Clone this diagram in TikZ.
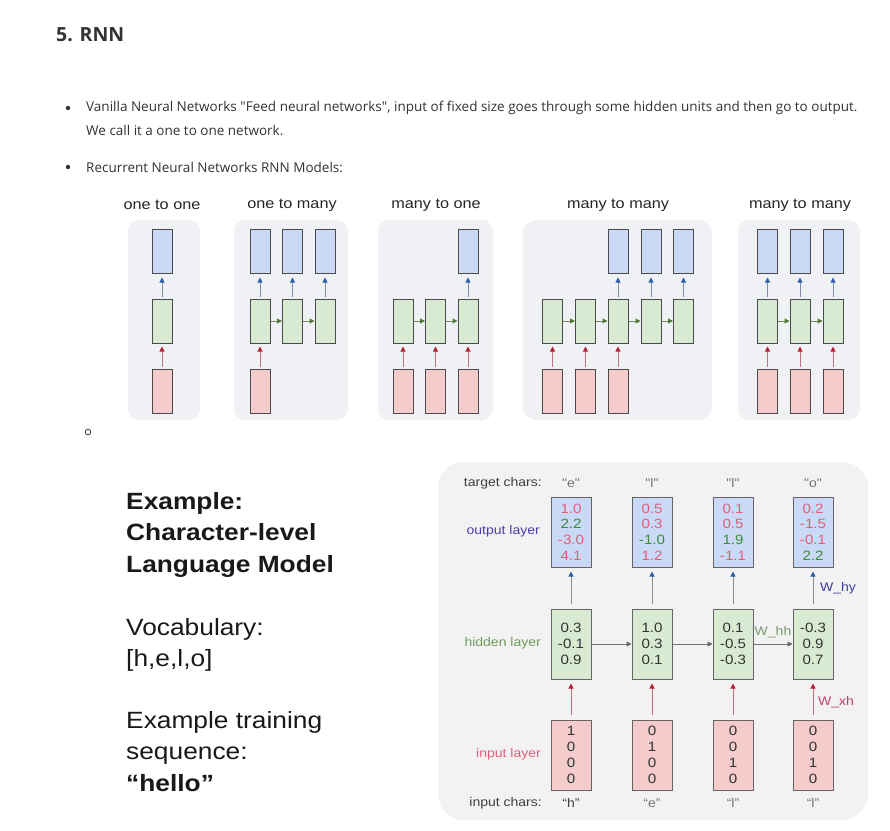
\documentclass[tikz,border=0pt]{standalone}
\usepackage{fontspec}
\setmainfont{Liberation Sans}
\newfontfamily\webfont{Open Sans}
\newfontfamily\arialx[FakeStretch=1.12]{Liberation Sans}
\usetikzlibrary{arrows.meta}
\definecolor{panelbg}{HTML}{EFF1F4}
\definecolor{exbg}{HTML}{F2F2F3}
\definecolor{boxline}{HTML}{4A4A4A}
\definecolor{cellblue}{HTML}{C9D9F6}
\definecolor{cellgreen}{HTML}{D9EAD3}
\definecolor{cellred}{HTML}{F4CCCC}
\definecolor{tipblue}{HTML}{2F5FA8}
\definecolor{tipred}{HTML}{B3243B}
\definecolor{tipgreen}{HTML}{4E7A35}
\definecolor{shaftblue}{HTML}{7F8DA6}
\definecolor{shaftred}{HTML}{C0707C}
\definecolor{shaftgreen}{HTML}{6F8C5E}
\definecolor{txt}{HTML}{333333}
\definecolor{numred}{HTML}{E0607A}
\definecolor{numgreen}{HTML}{3D8A3D}
\definecolor{lblblue}{HTML}{4B3FA6}
\definecolor{lblgreen}{HTML}{6F9A5A}
\definecolor{lblred}{HTML}{E0607A}
\definecolor{whh}{HTML}{7A9A70}
\definecolor{why}{HTML}{3C3CA0}
\definecolor{wxh}{HTML}{C0406A}
\tikzset{
  panel/.style={fill=panelbg, draw=none},
  cell/.style={draw=boxline, line width=1pt, minimum width=20pt, minimum height=44pt, inner sep=0pt},
  bcell/.style={cell, fill=cellblue},
  gcell/.style={cell, fill=cellgreen},
  rcell/.style={cell, fill=cellred},
  upblue/.style={draw=shaftblue, line width=1pt, -{Triangle[length=5pt,width=5pt,color=tipblue]}, shorten <=2pt, shorten >=4pt},
  upred/.style={draw=shaftred, line width=1pt, -{Triangle[length=5pt,width=5pt,color=tipred]}, shorten <=2pt, shorten >=3pt},
  rgreen/.style={draw=shaftgreen, line width=1pt, -{Triangle[length=5pt,width=5pt,color=tipgreen]}},
  toplabel/.style={font=\arialx\fontsize{14.5}{16}\selectfont, text=black!85, inner sep=0pt},
  bigcell/.style={draw=boxline!85, line width=1pt, minimum width=40pt, inner sep=0pt, align=center, font=\arialx\fontsize{13.5}{15.8}\selectfont},
  outcell/.style={bigcell, fill=cellblue, minimum height=70pt},
  hidcell/.style={bigcell, fill=cellgreen, minimum height=70pt, text=txt},
  incell/.style={bigcell, fill=cellred, minimum height=70pt, text=txt},
  exlbl/.style={font=\arialx\fontsize{12.5}{14}\selectfont, inner sep=0pt, anchor=east},
  chr/.style={font=\arialx\fontsize{12.5}{14}\selectfont, inner sep=0pt, text=black!55},
  exup/.style={draw=black!45, line width=1pt, shorten <=5pt, shorten >=4pt},
  exright/.style={draw=black!55, line width=1pt, -{Triangle[length=5pt,width=5pt,color=black!60]}},
  lefttxt/.style={font=\arialx\fontsize{23.5}{28}\selectfont, anchor=base west, inner sep=0pt, text=black!90},
  bodytxt/.style={font=\webfont\fontsize{13.5}{15}\selectfont, text=txt, anchor=west, inner sep=0pt},
}
\begin{document}
\begin{tikzpicture}[x=1pt, y=-1pt]
\useasboundingbox[fill=white] (0,0) rectangle (890,830);

% heading and bullets
\node[font=\webfont\bfseries\fontsize{19.5}{22}\selectfont, text=txt, anchor=west, inner sep=0pt] (title) at (56,35) {5. RNN};
\fill[txt] (68,108) circle (2.2pt);
\node[bodytxt] (b1a) at (86,108) {Vanilla Neural Networks "Feed neural networks", input of fixed size goes through some hidden units and then go to output.};
\node[bodytxt] (b1b) at (86,130) {We call it a one to one network.};
\fill[txt] (68,167) circle (2.2pt);
\node[bodytxt] (b2) at (86,167) {Recurrent Neural Networks RNN Models:};
\draw[txt, line width=0.8pt] (88,432) circle (2.8pt);

% ---------- top panels ----------
\fill[panel, rounded corners=11pt] (128,220) rectangle (200,420);
\fill[panel, rounded corners=11pt] (234,220) rectangle (348,420);
\fill[panel, rounded corners=11pt] (378,220) rectangle (493,420);
\fill[panel, rounded corners=14pt] (523,220) rectangle (712,420);
\fill[panel, rounded corners=11pt] (738,220) rectangle (860,420);

\node[toplabel] (l1) at (162,205) {one to one};
\node[toplabel] (l2) at (292,205) {one to many};
\node[toplabel] (l3) at (436,205) {many to one};
\node[toplabel] (l4) at (618,205) {many to many};
\node[toplabel] (l5) at (800,205) {many to many};

% panel 1
\node[bcell] (a1b) at (162,251) {};
\node[gcell] (a1g) at (162,321) {};
\node[rcell] (a1r) at (162,391) {};
\draw[upblue] (a1g.north) -- (a1b.south);
\draw[upred] (a1r.north) -- (a1g.south);

% panel 2
\foreach \i/\x in {1/260,2/292.5,3/325}{
  \node[bcell] (b\i b) at (\x,251) {};
  \node[gcell] (b\i g) at (\x,321) {};
  \draw[upblue] (b\i g.north) -- (b\i b.south);
}
\node[rcell] (b1r) at (260,391) {};
\draw[upred] (b1r.north) -- (b1g.south);
\draw[rgreen] (b1g.east) -- (b2g.west);
\draw[rgreen] (b2g.east) -- (b3g.west);

% panel 3
\foreach \i/\x in {1/403,2/435.5,3/468}{
  \node[gcell] (c\i g) at (\x,321) {};
  \node[rcell] (c\i r) at (\x,391) {};
  \draw[upred] (c\i r.north) -- (c\i g.south);
}
\node[bcell] (c3b) at (468,251) {};
\draw[upblue] (c3g.north) -- (c3b.south);
\draw[rgreen] (c1g.east) -- (c2g.west);
\draw[rgreen] (c2g.east) -- (c3g.west);

% panel 4
\foreach \i/\x in {1/552.5,2/585.5,3/618,4/651,5/683.5}{
  \node[gcell] (d\i g) at (\x,321) {};
}
\foreach \i/\x in {1/552.5,2/585.5,3/618}{
  \node[rcell] (d\i r) at (\x,391) {};
  \draw[upred] (d\i r.north) -- (d\i g.south);
}
\foreach \i/\x in {3/618,4/651,5/683.5}{
  \node[bcell] (d\i b) at (\x,251) {};
  \draw[upblue] (d\i g.north) -- (d\i b.south);
}
\draw[rgreen] (d1g.east) -- (d2g.west);
\draw[rgreen] (d2g.east) -- (d3g.west);
\draw[rgreen] (d3g.east) -- (d4g.west);
\draw[rgreen] (d4g.east) -- (d5g.west);

% panel 5
\foreach \i/\x in {1/767.5,2/800,3/833}{
  \node[bcell] (e\i b) at (\x,251) {};
  \node[gcell] (e\i g) at (\x,321) {};
  \node[rcell] (e\i r) at (\x,391) {};
  \draw[upblue] (e\i g.north) -- (e\i b.south);
  \draw[upred] (e\i r.north) -- (e\i g.south);
}
\draw[rgreen] (e1g.east) -- (e2g.west);
\draw[rgreen] (e2g.east) -- (e3g.west);

% ---------- left text ----------
\node[lefttxt, font=\arialx\bfseries\fontsize{23.5}{28}\selectfont] (t1) at (126,509) {Example:};
\node[lefttxt, font=\arialx\bfseries\fontsize{23.5}{28}\selectfont] (t2) at (126,540.5) {Character-level};
\node[lefttxt, font=\arialx\bfseries\fontsize{23.5}{28}\selectfont] (t3) at (126,572) {Language Model};
\node[lefttxt] (t4) at (126,635) {Vocabulary:};
\node[lefttxt] (t5) at (126,666.5) {[h,e,l,o]};
\node[lefttxt] (t6) at (126,728) {Example training};
\node[lefttxt] (t7) at (126,759.5) {sequence:};
\node[lefttxt, font=\arialx\bfseries\fontsize{23.5}{28}\selectfont] (t8) at (126,791) {“hello”};

% ---------- example panel ----------
\fill[exbg, rounded corners=26pt] (438,462) rectangle (868,820);

\node[exlbl, text=black!75] (tc) at (542,483) {target chars:};
\node[exlbl, text=lblblue] (ol) at (540,531) {output layer};
\node[exlbl, text=lblgreen] (hl) at (541,643) {hidden layer};
\node[exlbl, text=lblred] (il) at (541,754) {input layer};
\node[exlbl, text=black!75] (ic) at (542,803) {input chars:};

\node[chr] (tc1) at (571,483) {"e"};
\node[chr] (tc2) at (652,483) {"l"};
\node[chr] (tc3) at (733,483) {"l"};
\node[chr] (tc4) at (813,483) {"o"};
\node[chr, text=black!75] (ic1) at (571,803) {“h”};
\node[chr] (ic2) at (652,803) {“e”};
\node[chr] (ic3) at (733,803) {“l”};
\node[chr] (ic4) at (813,803) {“l”};

\node[outcell] (o1) at (571,532) {\color{numred}1.0\\\color{numgreen}2.2\\\color{numred}-3.0\\\color{numred}4.1};
\node[outcell] (o2) at (652,532) {\color{numred}0.5\\\color{numred}0.3\\\color{numgreen}-1.0\\\color{numred}1.2};
\node[outcell] (o3) at (733,532) {\color{numred}0.1\\\color{numred}0.5\\\color{numgreen}1.9\\\color{numred}-1.1};
\node[outcell] (o4) at (813,532) {\color{numred}0.2\\\color{numred}-1.5\\\color{numred}-0.1\\\color{numgreen}2.2};

\node[hidcell] (h1) at (571,644) {0.3\\-0.1\\0.9};
\node[hidcell] (h2) at (652,644) {1.0\\0.3\\0.1};
\node[hidcell] (h3) at (733,644) {0.1\\-0.5\\-0.3};
\node[hidcell] (h4) at (813,644) {-0.3\\0.9\\0.7};

\node[incell] (i1) at (571,755) {1\\0\\0\\0};
\node[incell] (i2) at (652,755) {0\\1\\0\\0};
\node[incell] (i3) at (733,755) {0\\0\\1\\0};
\node[incell] (i4) at (813,755) {0\\0\\1\\0};

\foreach \i in {1,2,3,4}{
  \draw[exup, -{Triangle[length=5pt,width=5pt,color=tipblue]}] (h\i.north) -- (o\i.south);
  \draw[exup, draw=shaftred, -{Triangle[length=5pt,width=5pt,color=tipred]}] (i\i.north) -- (h\i.south);
}
\draw[exright] (h1.east) -- (h2.west);
\draw[exright] (h2.east) -- (h3.west);
\draw[exright] (h3.east) -- (h4.west);

\node[font=\arialx\fontsize{12.5}{14}\selectfont, text=whh, inner sep=0pt] (lwhh) at (773,632) {W\_hh};
\node[font=\arialx\fontsize{12.5}{14}\selectfont, text=why, inner sep=0pt, anchor=west] (lwhy) at (820,588) {W\_hy};
\node[font=\arialx\fontsize{12.5}{14}\selectfont, text=wxh, inner sep=0pt, anchor=west] (lwxh) at (818,702) {W\_xh};
\end{tikzpicture}
\end{document}
